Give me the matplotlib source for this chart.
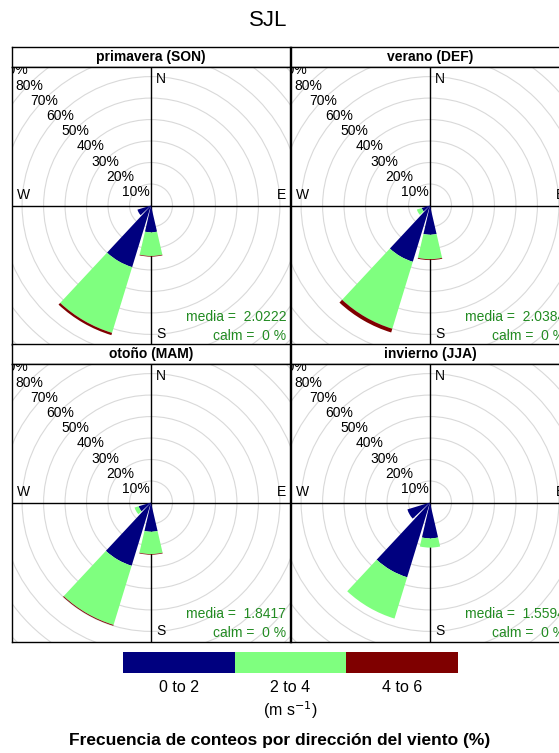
import numpy as np
import matplotlib
matplotlib.use("Agg")
import matplotlib.pyplot as plt
from matplotlib.patches import Wedge, Circle, Rectangle

plt.rcParams['font.family'] = ['Liberation Sans', 'DejaVu Sans']

# ---------------- data ----------------
station = "SJL"
seasons = ["primavera (SON)", "verano (DEF)", "otoño (MAM)", "invierno (JJA)"]
directions = [180, 210, 240]          # compass degrees of wedge centres
speed_bins = ["0 to 2", "2 to 4", "4 to 6"]
bin_colors = ["#00007F", "#7FFF7F", "#7F0000"]

# frequency (%) per speed bin, per direction (directions order above)
son_0_2 = [12.5, 30.0, 6.6]
son_2_4 = [11.0, 32.0, 0.0]
son_4_6 = [0.3, 1.1, 0.0]

def_0_2 = [13.6, 27.4, 4.0]
def_2_4 = [11.4, 32.6, 2.4]
def_4_6 = [0.4, 1.8, 0.0]

mam_0_2 = [13.6, 30.8, 6.0]
mam_2_4 = [10.4, 28.8, 2.0]
mam_4_6 = [0.3, 0.4, 0.0]

jja_0_2 = [16.7, 36.4, 11.0]
jja_2_4 = [4.3, 20.1, 0.0]
jja_4_6 = [0.0, 0.0, 0.0]

season_data = [
    [son_0_2, son_2_4, son_4_6],
    [def_0_2, def_2_4, def_4_6],
    [mam_0_2, mam_2_4, mam_4_6],
    [jja_0_2, jja_2_4, jja_4_6],
]
means = ["2.0222", "2.0384", "1.8417", "1.5594"]
calms = ["0", "0", "0", "0"]
grid_levels = [10, 20, 30, 40, 50, 60, 70, 80, 90]

# ---------------- layout ----------------
W, H = 559, 753
fig = plt.figure(figsize=(W / 100, H / 100), dpi=100)

def fx(px):
    return px / W

def fy(py):
    return 1 - py / H

fig.text(fx(268.5), fy(21), station, ha='center', va='center', fontsize=16)

panel_left = [12, 291, 12, 291]
strip_top = [47, 47, 344, 344]
strip_h = 19.5
panel_w = 278
panel_h = 278
lim = 64.7
wedge_width = 26.0

for i, name in enumerate(seasons):
    x0 = panel_left[i]
    st = strip_top[i]
    # strip
    sax = fig.add_axes([fx(x0), fy(st + strip_h), panel_w / W, strip_h / H])
    sax.set_xticks([]); sax.set_yticks([])
    for sp in sax.spines.values():
        sp.set_linewidth(1.0)
    sax.text(0.5, 0.5, name, ha='center', va='center', fontsize=10,
             fontweight='bold', transform=sax.transAxes)
    # panel
    top = st + strip_h
    ax = fig.add_axes([fx(x0), fy(top + panel_h), panel_w / W, panel_h / H])
    ax.set_xlim(-lim, lim); ax.set_ylim(-lim, lim)
    ax.set_aspect('equal', adjustable='box')
    ax.set_xticks([]); ax.set_yticks([])
    for sp in ax.spines.values():
        sp.set_linewidth(1.0)
    for g in grid_levels:
        ax.add_patch(Circle((0, 0), g, fill=False, ec='#D9D9D9', lw=0.8, zorder=1))
    ax.axhline(0, color='black', lw=1.0, zorder=2)
    ax.axvline(0, color='black', lw=1.0, zorder=2)
    # wedges
    bins = season_data[i]
    for j, d in enumerate(directions):
        base = 0.0
        theta_c = 90 - d
        for k in range(len(speed_bins)):
            v = bins[k][j]
            if v > 0:
                ax.add_patch(Wedge((0, 0), base + v, theta_c - wedge_width / 2,
                                   theta_c + wedge_width / 2, width=v,
                                   fc=bin_colors[k], ec='none', zorder=3))
            base += v
    # percentage labels
    for g in grid_levels:
        a = np.deg2rad(135)
        ax.text(g * np.cos(a), g * np.sin(a) - 0.8, f"{g}%", ha='center', va='center',
                fontsize=10, clip_on=True, zorder=4)
    # compass labels
    ax.text(2.5, lim - 2.5, "N", ha='left', va='top', fontsize=10, zorder=4)
    ax.text(2.5, -lim + 1.5, "S", ha='left', va='bottom', fontsize=10, zorder=4)
    ax.text(-lim + 2.5, 1.5, "W", ha='left', va='bottom', fontsize=10, zorder=4)
    ax.text(lim - 2.0, 1.5, "E", ha='right', va='bottom', fontsize=10, zorder=4)
    ax.text(lim - 1.8, -lim + 12.6, f"media =  {means[i]}", ha='right', va='center',
            fontsize=10, color='#228B22', zorder=4)
    ax.text(lim - 1.8, -lim + 4.0, f"calm =  {calms[i]} %", ha='right', va='center',
            fontsize=10, color='#228B22', zorder=4)

# ---------------- legend ----------------
lax = fig.add_axes([fx(123), fy(673), (458 - 123) / W, (673 - 652) / H])
lax.set_xlim(0, len(speed_bins)); lax.set_ylim(0, 1)
lax.axis('off')
for k, lab in enumerate(speed_bins):
    lax.add_patch(Rectangle((k, 0), 1, 1, fc=bin_colors[k], ec='none'))
    fig.text(fx(123 + (k + 0.5) * (458 - 123) / 3), fy(687), lab, ha='center',
             va='center', fontsize=11.5)
fig.text(fx(290), fy(710), r"(m s$^{-1}$)", ha='center', va='center', fontsize=11.5)
fig.text(fx(279.5), fy(741), "Frecuencia de conteos por dirección del viento (%)",
         ha='center', va='center', fontsize=12.5, fontweight='bold')

fig.savefig("out.png", dpi=100)
